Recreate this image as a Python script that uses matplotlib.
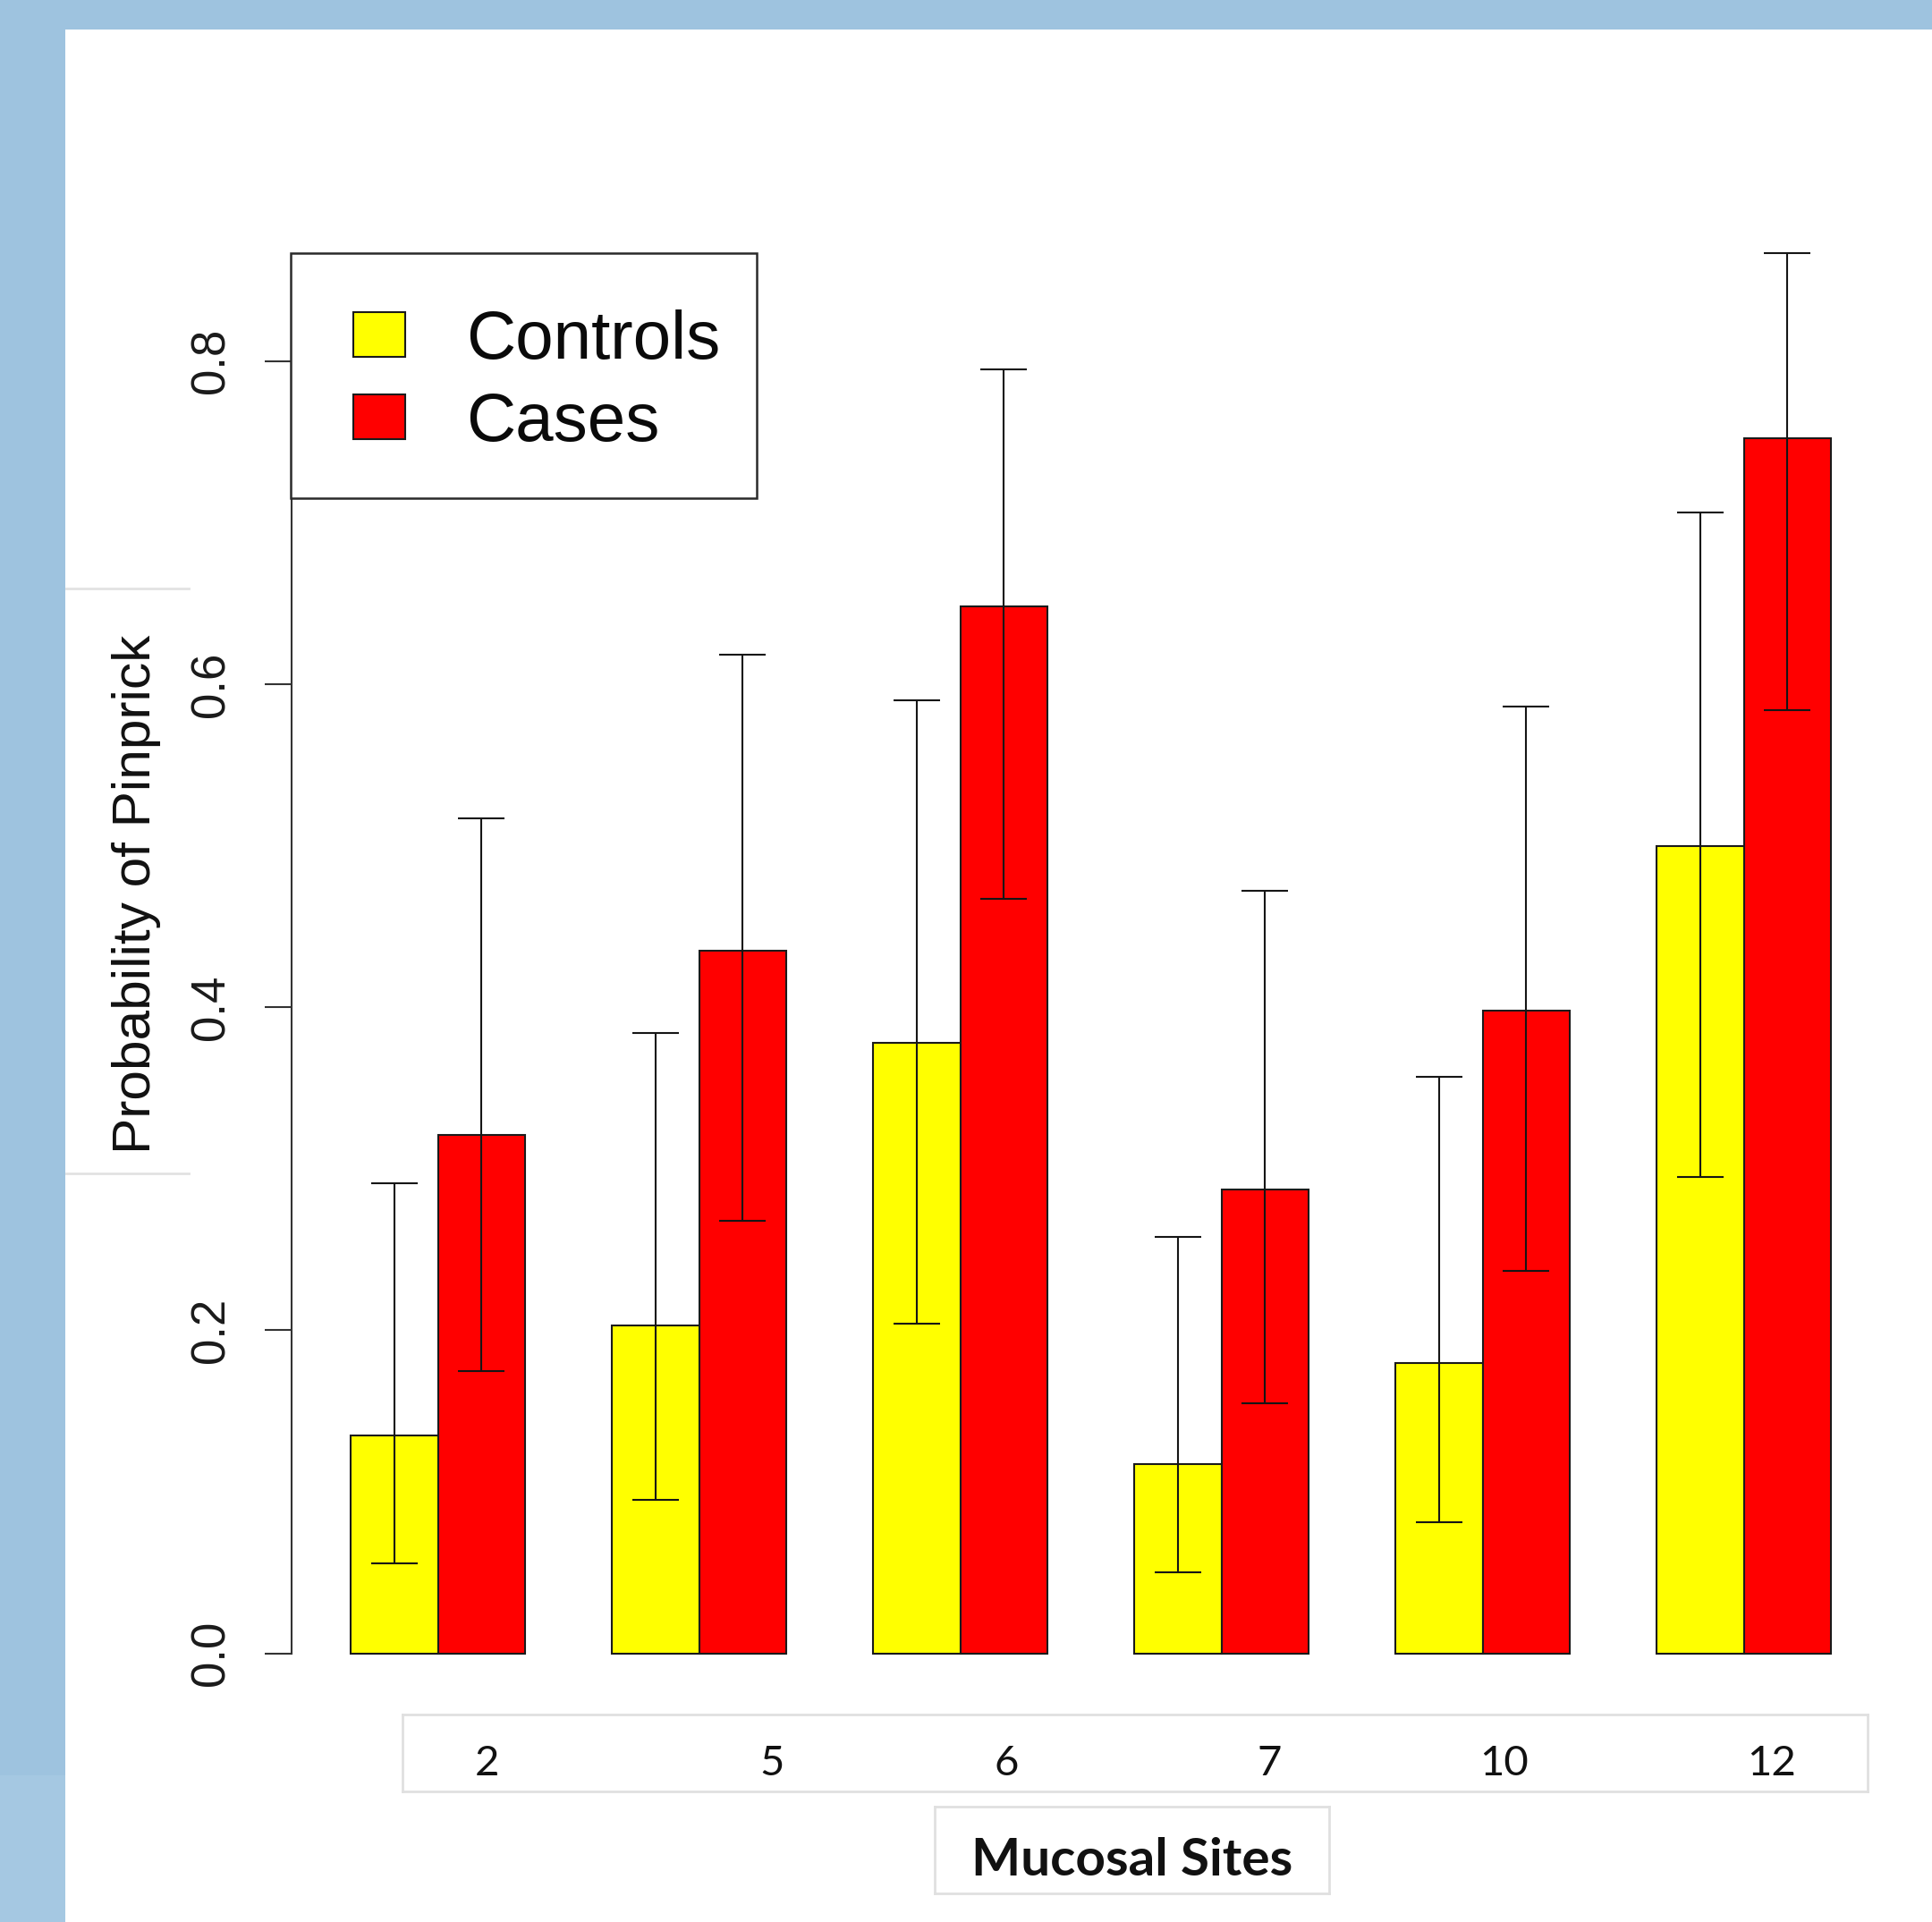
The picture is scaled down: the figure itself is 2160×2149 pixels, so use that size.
import matplotlib
matplotlib.use("Agg")
import matplotlib.pyplot as plt
from matplotlib.patches import Rectangle, Patch
from matplotlib.lines import Line2D
from matplotlib.transforms import blended_transform_factory
import numpy as np

# ---------------- data ----------------
sites = ["2", "5", "6", "7", "10", "12"]
series = ["Controls", "Cases"]
controls = [0.135, 0.203, 0.378, 0.117, 0.180, 0.500]
controls_lo = [0.056, 0.095, 0.204, 0.050, 0.081, 0.295]
controls_hi = [0.291, 0.384, 0.590, 0.258, 0.357, 0.706]
cases = [0.321, 0.435, 0.648, 0.287, 0.398, 0.752]
cases_lo = [0.175, 0.268, 0.467, 0.155, 0.237, 0.584]
cases_hi = [0.517, 0.618, 0.795, 0.472, 0.586, 0.867]
yticks = [0.0, 0.2, 0.4, 0.6, 0.8]
ytick_labels = ["0.0", "0.2", "0.4", "0.6", "0.8"]
ylabel = "Probability of Pinprick"
xlabel = "Mucosal Sites"

# ---------------- layout ----------------
W, H, DPI = 2160, 2149, 100
def fx(px):
    return px / W
def fy(py):
    return 1 - py / H

# positions of the pasted x labels (in bar-axis units)
xlabel_pos = [2.56, 5.84, 8.53, 11.55, 14.24, 17.32]

plt.rcParams['font.family'] = ['Liberation Sans', 'DejaVu Sans']

fig = plt.figure(figsize=(W / DPI, H / DPI), dpi=DPI)
fig.patch.set_facecolor('#9EC3DF')
fig.add_artist(Rectangle((fx(73), 0), 1 - fx(73), fy(33), transform=fig.transFigure,
                         facecolor='white', edgecolor='none', zorder=-10))
fig.add_artist(Rectangle((0, 0), fx(73), fy(1985), transform=fig.transFigure,
                         facecolor='#A5C8E2', edgecolor='none', zorder=-10))

ax = fig.add_axes([fx(326), fy(1921), fx(2113.3) - fx(326), fy(186.8) - fy(1921)])
ax.set_facecolor('none')
ax.set_xlim(0.32, 18.68)
ax.set_ylim(-0.04, 0.92)

n = len(sites)
x_ctrl = np.arange(n) * 3 + 1.5
x_case = np.arange(n) * 3 + 2.5
c = np.array(controls); k = np.array(cases)

edge = '#1a1a1a'
ax.bar(x_ctrl, c, width=1.0, color='#FFFF00', edgecolor=edge, linewidth=1.5, zorder=2)
ax.bar(x_case, k, width=1.0, color='#FF0000', edgecolor=edge, linewidth=1.5, zorder=2)

ax.errorbar(x_ctrl, c, yerr=[c - np.array(controls_lo), np.array(controls_hi) - c],
            fmt='none', ecolor='#151515', elinewidth=1.5, capsize=18.7, capthick=1.5, zorder=3)
ax.errorbar(x_case, k, yerr=[k - np.array(cases_lo), np.array(cases_hi) - k],
            fmt='none', ecolor='#151515', elinewidth=1.5, capsize=18.7, capthick=1.5, zorder=3)

for s in ['top', 'right', 'bottom']:
    ax.spines[s].set_visible(False)
ax.spines['left'].set_bounds(0, 0.8)
ax.spines['left'].set_color('#333333')
ax.spines['left'].set_linewidth(1.5)

ax.set_xticks([])
ax.set_yticks(yticks)
ax.set_yticklabels(ytick_labels)
ax.tick_params(axis='y', length=21.6, width=1.5, color='#333333', pad=33,
               labelsize=38, labelcolor='#1a1a1a')
for lab in ax.get_yticklabels():
    lab.set_rotation(90)
    lab.set_rotation_mode('anchor')
    lab.set_ha('center')
    lab.set_va('baseline')

ax.set_ylabel(ylabel, fontsize=43.5, color='#111111')
ax.yaxis.set_label_coords(fx(168), fy(1000), transform=fig.transFigure)
ax.yaxis.label.set_rotation_mode('anchor')
ax.yaxis.label.set_va('baseline')
ax.yaxis.label.set_ha('center')

# legend box (R style: square frame, white fill)
ax.add_patch(Rectangle((fx(325), fy(556.7)), fx(845.7) - fx(325), fy(282.7) - fy(556.7),
                       transform=fig.transFigure, facecolor='white', edgecolor='#2a2a2a',
                       linewidth=1.8, zorder=4, clip_on=False))
handles = [Patch(facecolor='#FFFF00', edgecolor=edge, linewidth=1.5),
           Patch(facecolor='#FF0000', edgecolor=edge, linewidth=1.5)]
leg = ax.legend(handles, series, loc='upper left', bbox_to_anchor=(fx(394.6), fy(346.1)),
                bbox_transform=fig.transFigure, borderaxespad=0, fontsize=55,
                handlelength=0.77, handleheight=0.64, handletextpad=0.88,
                labelspacing=0.274, borderpad=0.0, frameon=False)
leg.set_zorder(5)
for t in leg.get_texts():
    t.set_color('#0a0a0a')

# text-box decorations beside the y label
for yy in (657.7, 1312):
    fig.add_artist(Line2D([fx(74), fx(211)], [fy(yy), fy(yy)], transform=fig.transFigure,
                          color='#E2E2E2', linewidth=2))

# x tick label box
axb = fig.add_axes([fx(450), fy(2003), fx(2088) - fx(450), fy(1916.5) - fy(2003)])
axb.set_facecolor('none')
axb.set_xticks([]); axb.set_yticks([])
for s in axb.spines.values():
    s.set_color('#E0E0E0'); s.set_linewidth(2)
tr = blended_transform_factory(ax.transData, fig.transFigure)
for pos, lab in zip(xlabel_pos, sites):
    fig.text(pos, fy(1985), lab, transform=tr, ha='center', va='baseline',
             fontsize=34, family=['Lato', 'DejaVu Sans'], color='#111111')

# x label box
axm = fig.add_axes([fx(1045), fy(2117), fx(1486) - fx(1045), fy(2020) - fy(2117)])
axm.set_facecolor('none')
axm.set_xticks([]); axm.set_yticks([])
for s in axm.spines.values():
    s.set_color('#E0E0E0'); s.set_linewidth(2)
axm.text(0.5, fy(2096.7), xlabel, transform=blended_transform_factory(axm.transAxes, fig.transFigure),
         ha='center', va='baseline', fontsize=42, fontweight='bold',
         family=['Lato', 'DejaVu Sans'], color='#111111')

fig.savefig('out.png', dpi=DPI, facecolor=fig.get_facecolor())
